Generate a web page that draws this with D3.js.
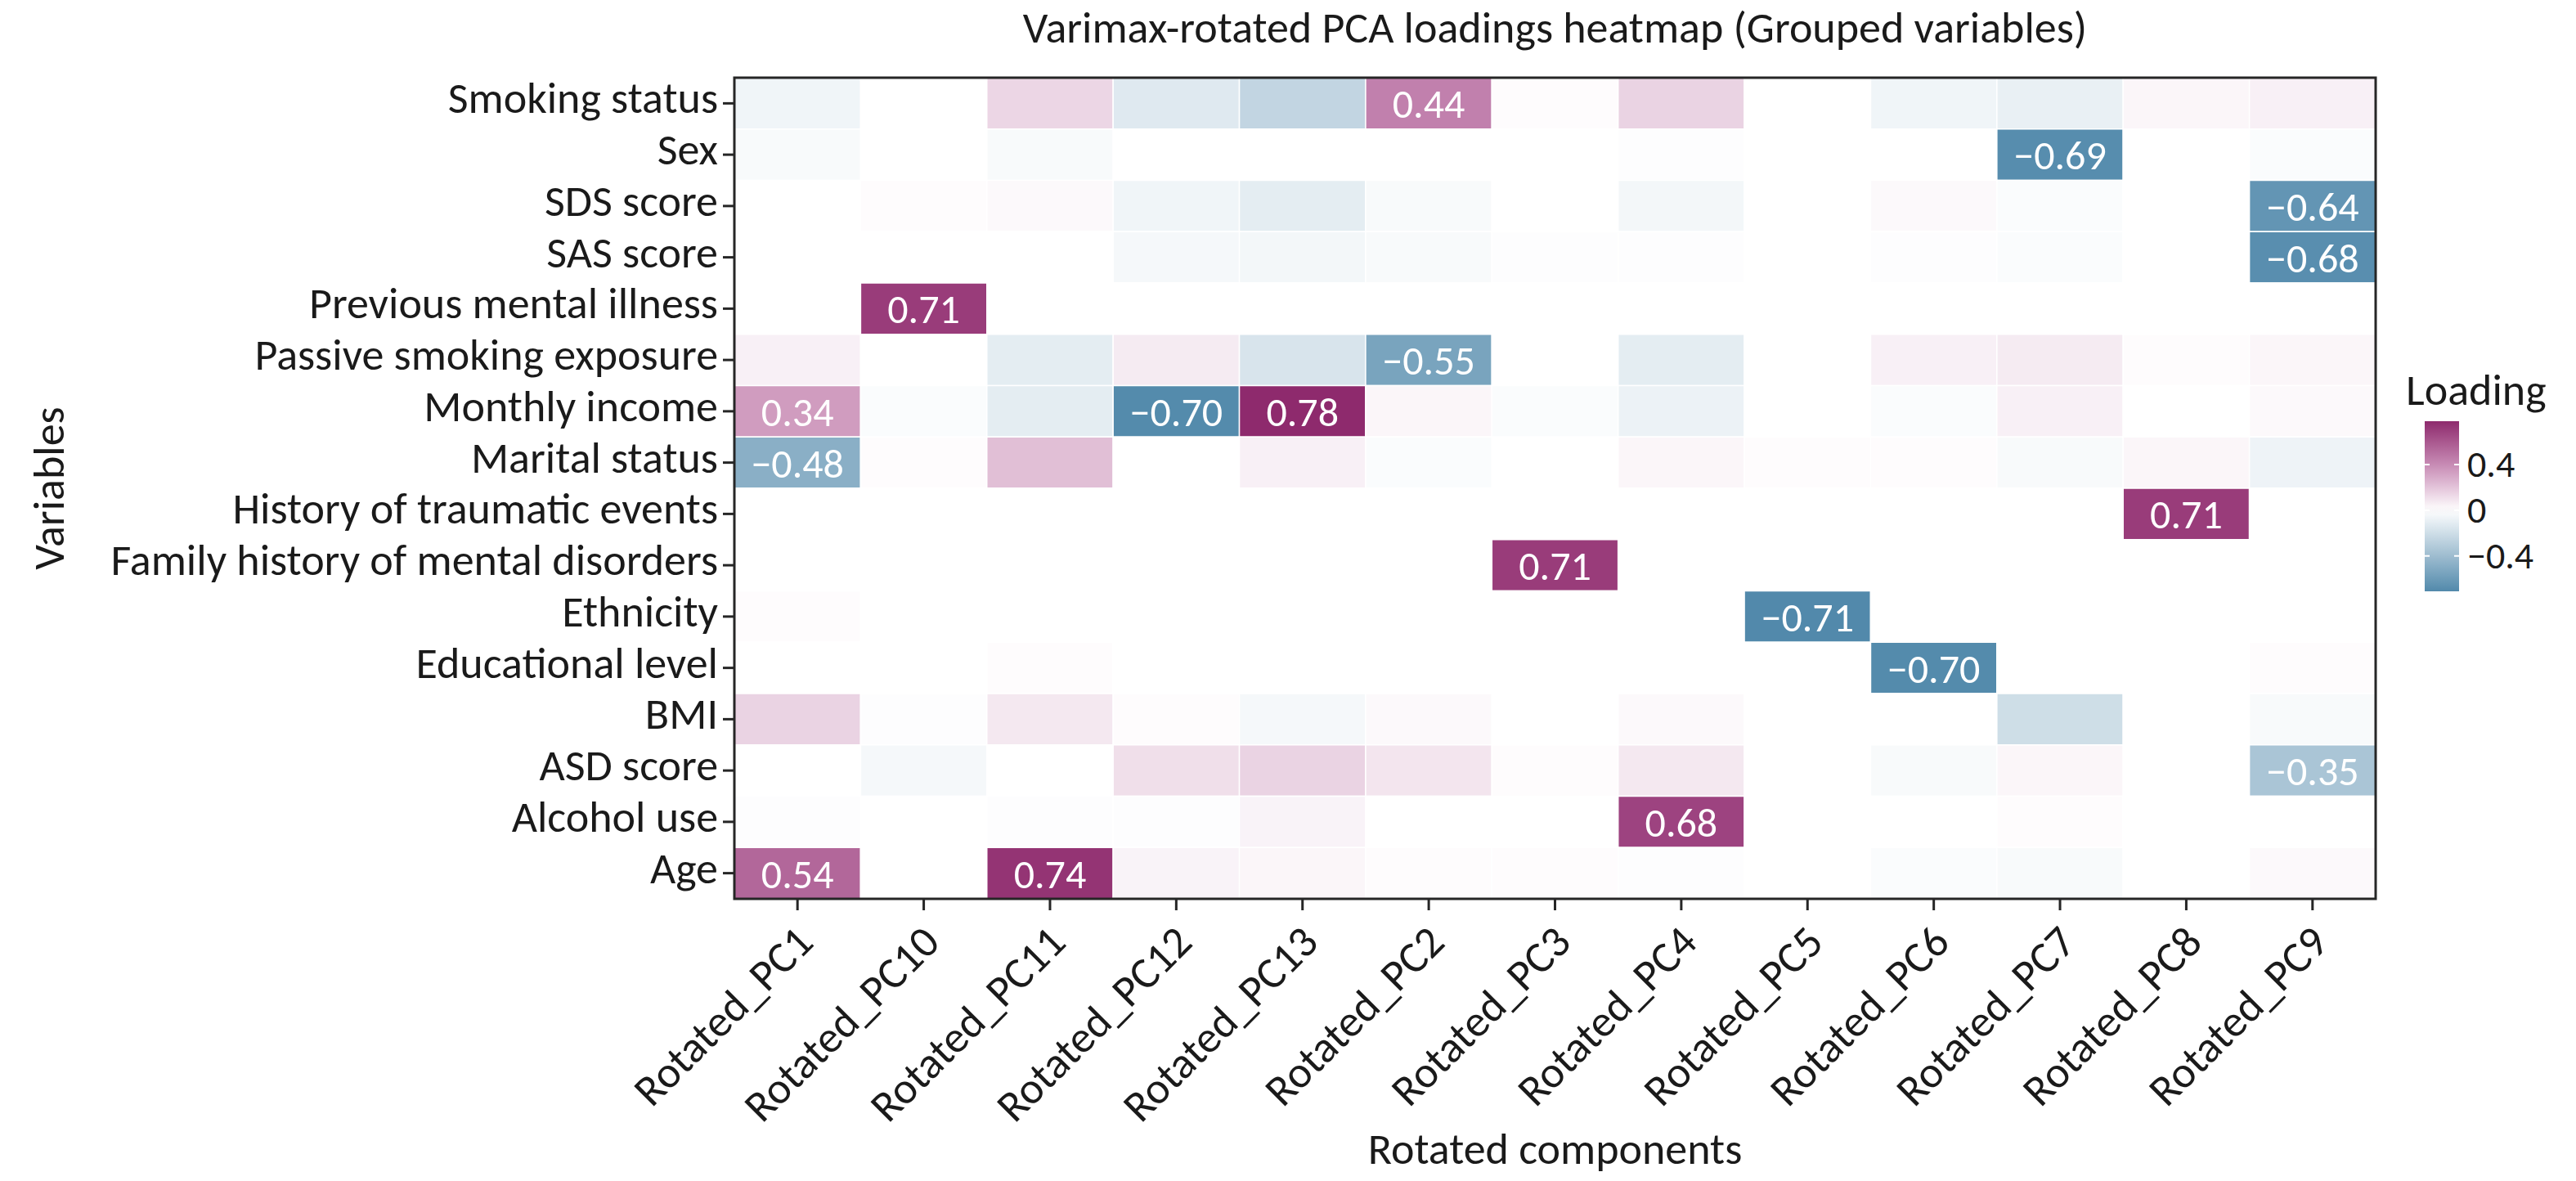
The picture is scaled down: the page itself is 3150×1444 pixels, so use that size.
<!DOCTYPE html>
<html>
<head>
<meta charset="utf-8">
<script src="https://cdn.jsdelivr.net/npm/d3@7"></script>
<style>
    body { margin: 0; background: #ffffff; }
    text { font-family: Carlito, Calibri, Lato, sans-serif; fill: #1a1a1a; }
</style>
</head>
<body>
<div id="chart"></div>
<script>
// Variables (rows, top to bottom)
var variables = ["Smoking status", "Sex", "SDS score", "SAS score", "Previous mental illness",
    "Passive smoking exposure", "Monthly income", "Marital status", "History of traumatic events",
    "Family history of mental disorders", "Ethnicity", "Educational level", "BMI", "ASD score",
    "Alcohol use", "Age"];

// Rotated components (columns)
var components = ["Rotated_PC1", "Rotated_PC10", "Rotated_PC11", "Rotated_PC12", "Rotated_PC13",
    "Rotated_PC2", "Rotated_PC3", "Rotated_PC4", "Rotated_PC5", "Rotated_PC6", "Rotated_PC7",
    "Rotated_PC8", "Rotated_PC9"];

// Loadings, one row per variable, same order as components
var loadings = [
    [-0.06, 0.00, 0.14, -0.13, -0.25, 0.44, 0.01, 0.15, 0.00, -0.06, -0.09, 0.03, 0.05],
    [-0.03, 0.00, -0.03, 0.00, 0.00, 0.00, 0.00, -0.01, 0.00, 0.00, -0.69, 0.00, -0.02],
    [0.00, 0.01, 0.02, -0.06, -0.11, -0.03, 0.00, -0.05, 0.00, 0.02, -0.02, 0.00, -0.64],
    [0.00, 0.00, 0.00, -0.04, -0.05, -0.03, -0.01, -0.01, 0.00, -0.01, -0.02, 0.00, -0.68],
    [0.00, 0.71, 0.00, 0.00, 0.00, 0.00, 0.00, 0.00, 0.00, 0.00, 0.00, 0.00, 0.00],
    [0.05, 0.00, -0.11, 0.07, -0.16, -0.55, 0.00, -0.11, 0.00, 0.05, 0.07, 0.01, 0.03],
    [0.34, -0.02, -0.11, -0.70, 0.78, 0.03, -0.02, -0.08, 0.00, -0.02, 0.05, 0.00, 0.02],
    [-0.48, 0.01, 0.22, 0.00, 0.05, -0.02, 0.00, 0.03, 0.01, 0.01, -0.03, 0.03, -0.07],
    [0.00, 0.00, 0.00, 0.00, 0.00, 0.00, 0.00, 0.00, 0.00, 0.00, 0.00, 0.71, 0.00],
    [0.00, 0.00, 0.00, 0.00, 0.00, 0.00, 0.71, 0.00, 0.00, 0.00, 0.00, 0.00, 0.00],
    [0.01, 0.00, 0.00, 0.00, 0.00, 0.00, 0.00, 0.00, -0.71, 0.00, 0.00, 0.00, 0.00],
    [0.00, 0.00, 0.01, 0.00, 0.00, 0.00, 0.00, 0.00, 0.00, -0.70, 0.00, 0.00, 0.01],
    [0.15, -0.01, 0.08, 0.01, -0.04, 0.02, 0.00, 0.02, 0.00, 0.00, -0.20, 0.00, -0.03],
    [0.00, -0.04, 0.00, 0.11, 0.15, 0.09, 0.01, 0.08, 0.00, -0.03, 0.03, 0.00, -0.35],
    [-0.01, 0.00, -0.01, -0.01, 0.04, 0.00, 0.00, 0.68, 0.00, 0.00, 0.01, 0.00, 0.00],
    [0.54, 0.00, 0.74, 0.04, 0.03, 0.01, 0.01, -0.01, 0.00, -0.02, -0.03, 0.00, 0.02]
];

var legendTicks = [0.4, 0, -0.4];

var W = 3150, H = 1444;
var margin = { left: 898, top: 95, right: 245, bottom: 345 };
var pw = W - margin.left - margin.right;
var ph = H - margin.top - margin.bottom;
var fs = 54;      // label font size
var fsCell = 50;  // annotation font size
var fsLeg = 46;   // colour bar tick labels (tight spacing)

// flatten into cells
var cells = [];
variables.forEach(function (v, i) {
    components.forEach(function (c, j) {
        cells.push({ row: v, col: c, value: loadings[i][j] });
    });
});

var allVals = d3.merge(loadings);
var vmin = d3.min(allVals), vmax = d3.max(allVals);
var vrange = Math.max(vmax, -vmin);  // symmetric around 0

// colour scale: blue - white - magenta
var color = d3.scaleLinear()
    .domain([-vrange, -vrange / 2, 0, vrange / 2, vrange])
    .range(["#417ea3", "#a0bed1", "#ffffff", "#c98db6", "#8e2a6d"])
    .interpolate(d3.interpolateRgb)
    .clamp(true);

var x = d3.scaleBand().domain(components).range([0, pw]);
var y = d3.scaleBand().domain(variables).range([0, ph]);

var svg = d3.select("#chart").append("svg")
    .attr("width", W)
    .attr("height", H);

var g = svg.append("g")
    .attr("transform", "translate(" + margin.left + "," + margin.top + ")");

// heatmap cells
g.selectAll("rect.cell")
    .data(cells)
    .enter()
    .append("rect")
    .attr("class", "cell")
    .attr("x", function (d) { return x(d.col); })
    .attr("y", function (d) { return y(d.row); })
    .attr("width", x.bandwidth())
    .attr("height", y.bandwidth())
    .attr("fill", function (d) { return color(d.value); })
    .attr("stroke", "#ffffff")
    .attr("stroke-width", 1.5);

// annotations for the larger loadings
g.selectAll("text.annot")
    .data(cells.filter(function (d) { return Math.abs(d.value) >= 0.3; }))
    .enter()
    .append("text")
    .attr("class", "annot")
    .attr("x", function (d) { return x(d.col) + x.bandwidth() / 2; })
    .attr("y", function (d) { return y(d.row) + y.bandwidth() / 2 + 18; })
    .attr("text-anchor", "middle")
    .style("font-size", fsCell + "px")
    .style("fill", "#ffffff")
    .text(function (d) { return d3.format(".2f")(d.value).replace("-", "\u2212"); });

// frame
g.append("rect")
    .attr("width", pw)
    .attr("height", ph)
    .attr("fill", "none")
    .attr("stroke", "#262626")
    .attr("stroke-width", 3);

// y axis
var yAxis = g.append("g")
    .call(d3.axisLeft(y).tickSize(14).tickPadding(6));
yAxis.select(".domain").remove();
yAxis.selectAll(".tick line").attr("stroke", "#262626").attr("stroke-width", 3);
yAxis.selectAll(".tick text")
    .attr("dy", null)
    .attr("y", 12)
    .style("font-size", fs + "px")
    .style("font-family", null)
    .attr("fill", "#1a1a1a");

// x axis
var xAxis = g.append("g")
    .attr("transform", "translate(0," + ph + ")")
    .call(d3.axisBottom(x).tickSize(14));
xAxis.select(".domain").remove();
xAxis.selectAll(".tick line").attr("stroke", "#262626").attr("stroke-width", 3);
xAxis.selectAll(".tick text")
    .attr("y", null)
    .attr("dy", null)
    .attr("text-anchor", "end")
    .attr("transform", "translate(22,56) rotate(-45)")
    .style("font-size", fs + "px")
    .style("font-family", null)
    .attr("fill", "#1a1a1a");

// title and axis labels
svg.append("text")
    .attr("x", margin.left + pw / 2)
    .attr("y", 52)
    .attr("text-anchor", "middle")
    .style("font-size", "54px")
    .text("Varimax-rotated PCA loadings heatmap (Grouped variables)");

svg.append("text")
    .attr("x", margin.left + pw / 2)
    .attr("y", 1423)
    .attr("text-anchor", "middle")
    .style("font-size", fs + "px")
    .text("Rotated components");

svg.append("text")
    .attr("transform", "translate(78," + (margin.top + ph / 2) + ") rotate(-90)")
    .attr("text-anchor", "middle")
    .style("font-size", fs + "px")
    .text("Variables");

// colour bar legend
var cbX = 2965, cbY = 515, cbW = 42, cbH = 208;
var cbScale = d3.scaleLinear().domain([vmin, vmax]).range([cbY + cbH, cbY]);

var defs = svg.append("defs");
var grad = defs.append("linearGradient")
    .attr("id", "cbgrad")
    .attr("x1", 0).attr("y1", 1).attr("x2", 0).attr("y2", 0);
d3.range(0, 1.0001, 0.05).forEach(function (t) {
    var v = vmin + t * (vmax - vmin);
    grad.append("stop")
        .attr("offset", (t * 100) + "%")
        .attr("stop-color", color(v));
});

svg.append("rect")
    .attr("x", cbX)
    .attr("y", cbY)
    .attr("width", cbW)
    .attr("height", cbH)
    .attr("fill", "url(#cbgrad)");

var cbAxis = svg.append("g")
    .attr("transform", "translate(" + (cbX + cbW) + ",0)")
    .call(d3.axisRight(cbScale).tickValues(legendTicks).tickSize(0).tickPadding(10)
        .tickFormat(function (d) { return d === 0 ? "0" : d3.format(".1f")(d).replace("-", "\u2212"); }));
cbAxis.select(".domain").remove();
cbAxis.selectAll(".tick text")
    .style("font-size", fsLeg + "px")
    .style("font-family", null)
    .attr("fill", "#1a1a1a");

// little white ticks inside the bar
legendTicks.forEach(function (t) {
    [cbX, cbX + cbW - 6].forEach(function (x0) {
        svg.append("line")
            .attr("x1", x0).attr("x2", x0 + 6)
            .attr("y1", cbScale(t)).attr("y2", cbScale(t))
            .attr("stroke", "#ffffff")
            .attr("stroke-width", 2);
    });
});

svg.append("text")
    .attr("x", 2942)
    .attr("y", 495)
    .style("font-size", fs + "px")
    .text("Loading");
</script>
</body>
</html>
